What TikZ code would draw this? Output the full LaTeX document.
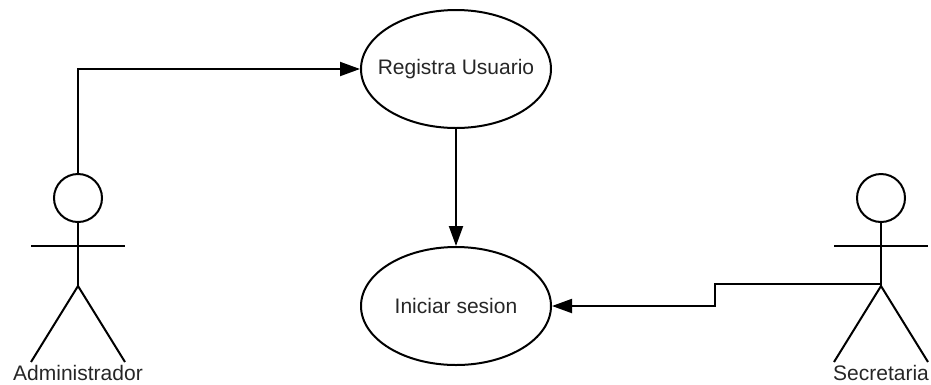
\documentclass[tikz,border=0pt]{standalone}
\usepackage{fontspec}
\setmainfont{Liberation Sans}
\usetikzlibrary{arrows.meta,shapes.geometric}
\definecolor{txt}{HTML}{262626}
\begin{document}
\begin{tikzpicture}[x=1pt,y=-1pt,line width=2pt,
  txtfont/.style={font=\fontsize{21}{25}\selectfont, text=txt},
  uc/.style={draw, ellipse, minimum width=190pt, minimum height=118pt, inner sep=0pt,
             label={[txtfont, inner sep=0pt]center:#1}},
  lbl/.style={txtfont, anchor=base, inner sep=0pt},
  arr/.style={-{Triangle[length=20pt,width=14pt]}},
  actor/.pic={
    \draw (0,0) circle[radius=24];
    \draw (0,24) -- (0,88);
    \draw (-47,48) -- (47,48);
    \draw (-47,164) -- (0,88) -- (47,164);
  }]
\useasboundingbox (0,0) rectangle (931,384);

\node[uc={Registra Usuario}] (reg) at (456,69) {};
\node[uc={Iniciar sesion}] (ini) at (456,306) {};

\pic at (78,198) {actor};
\pic at (881,198) {actor};
\node[lbl] (adm) at (78,380) {Administrador};
\node[lbl] (sec) at (881,380) {Secretaria};

\coordinate (admtop) at (78,174);
\coordinate (secwaist) at (881,284);
\coordinate (stepA) at (715,284);
\coordinate (stepB) at (715,306);

\draw[arr] (admtop) |- (reg.west);
\draw[arr] (reg.south) -- (ini.north);
\draw[arr] (secwaist) -- (stepA) -- (stepB) -- (ini.east);
\end{tikzpicture}
\end{document}
